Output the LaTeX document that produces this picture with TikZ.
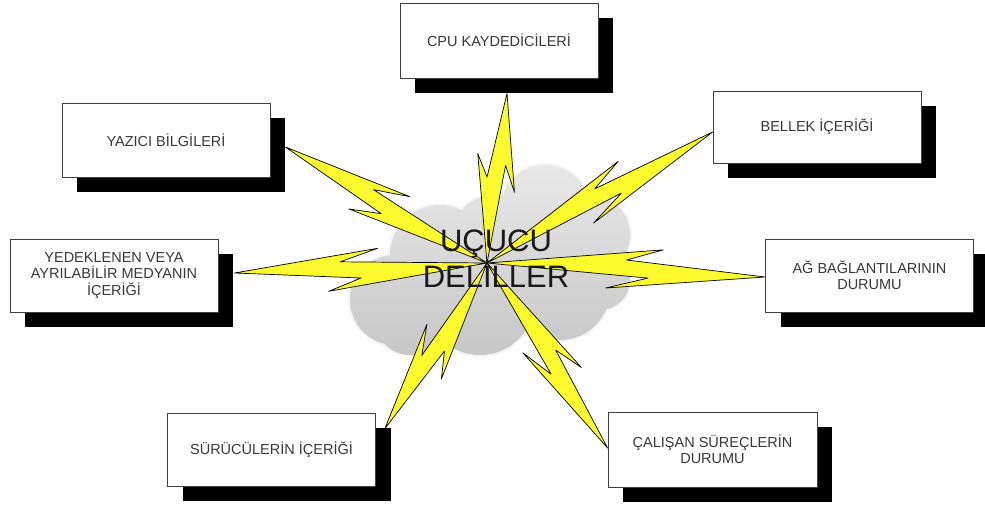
\documentclass[tikz,border=0pt]{standalone}
\usepackage{fontspec}
\setmainfont{Liberation Sans}
\usetikzlibrary{calc,shadows}
\definecolor{boltyellow}{RGB}{250,250,45}
\definecolor{labelgray}{RGB}{55,55,55}

% Zig-zag lightning bolt from end point #1 to hub #2:
% a wedge that overshoots to one side, a band that turns back
% across the axis, and a second wedge that runs on to the hub.
\newcommand\zapbolt[2]{%
  \filldraw[bolt] (#1)
    -- ($(#1)!0.57!(#2)!19pt!90:(#2)$)
    -- ($(#1)!0.42!(#2)!7pt!90:(#2)$)
    -- (#2)
    -- ($(#1)!0.37!(#2)!22pt!-90:(#2)$)
    -- ($(#1)!0.50!(#2)!10pt!-90:(#2)$)
    -- cycle;}

\begin{document}
\begin{tikzpicture}[x=1pt,y=-1pt,
  infobox/.style={draw=black!75, line width=0.8pt, fill=white,
    minimum width=208pt, minimum height=74pt, align=center, inner sep=2pt,
    font=\fontsize{14.5}{16.5}\selectfont, text=labelgray,
    general shadow={fill=black, shadow xshift=15pt, shadow yshift=-15pt}},
  bolt/.style={fill=boltyellow, draw=black, line width=0.7pt, line join=round},
  cloudpart/.style={top color=black!9, bottom color=black!22},
  title/.style={font=\fontsize{31}{36}\selectfont, align=center, text=black!90}]
\useasboundingbox (0,0) rectangle (985,504);
\fill[white] (0,0) rectangle (985,504);

% information boxes
\node[infobox, minimum width=198pt, minimum height=75pt] (cpu) at (499,40.5) {CPU KAYDEDİCİLERİ};
\node[infobox] (yaz) at (166,140) {YAZICI BİLGİLERİ};
\node[infobox, minimum height=73pt] (yed) at (114,275.5) {YEDEKLENEN VEYA\\AYRILABİLİR MEDYANIN\\İÇERİĞİ};
\node[infobox, minimum height=72pt] (bel) at (817,127) {BELLEK İÇERİĞİ};
\node[infobox, minimum height=73pt] (ag) at (869.5,275.5) {AĞ BAĞLANTILARININ\\DURUMU};
\node[infobox, minimum width=209pt, minimum height=75pt] (cal) at (712.5,449.5) {ÇALIŞAN SÜREÇLERİN\\DURUMU};
\node[infobox, minimum height=73pt] (sur) at (271.5,449.5) {SÜRÜCÜLERİN İÇERİĞİ};

% cloud, with a faint soft rim
\fill[black!4] (395,300) circle (47) (440,255) circle (52) (480,300) circle (57)
  (545,210) circle (47) (590,235) circle (42) (560,290) circle (52)
  (600,280) circle (32) (495,240) circle (47) (410,320) circle (37);
\shade[cloudpart] (395,300) circle (45) (440,255) circle (50) (480,300) circle (55)
  (545,210) circle (45) (590,235) circle (40) (560,290) circle (50)
  (600,280) circle (30) (495,240) circle (45) (410,320) circle (35);

% bolt ends and hub
\coordinate (hub) at (487,263);
\coordinate (cpuT) at ([shift={(8,15)}]cpu.south);
\coordinate (yazT) at ([shift={(15,7)}]yaz.east);
\coordinate (yedT) at ([shift={(16,-2.5)}]yed.east);
\coordinate (belT) at ([shift={(0,5)}]bel.west);
\coordinate (agT) at ([shift={(0,1.5)}]ag.west);
\coordinate (calT) at ([shift={(0,-1.5)}]cal.west);
\coordinate (surT) at ([shift={(9,16)}]sur.north east);

\zapbolt{cpuT}{hub}
\zapbolt{yazT}{hub}
\zapbolt{yedT}{hub}
\zapbolt{belT}{hub}
\zapbolt{agT}{hub}
\zapbolt{calT}{hub}
\zapbolt{surT}{hub}

\node[title] (core) at (496,259) {UÇUCU\\DELİLLER};
\end{tikzpicture}
\end{document}
